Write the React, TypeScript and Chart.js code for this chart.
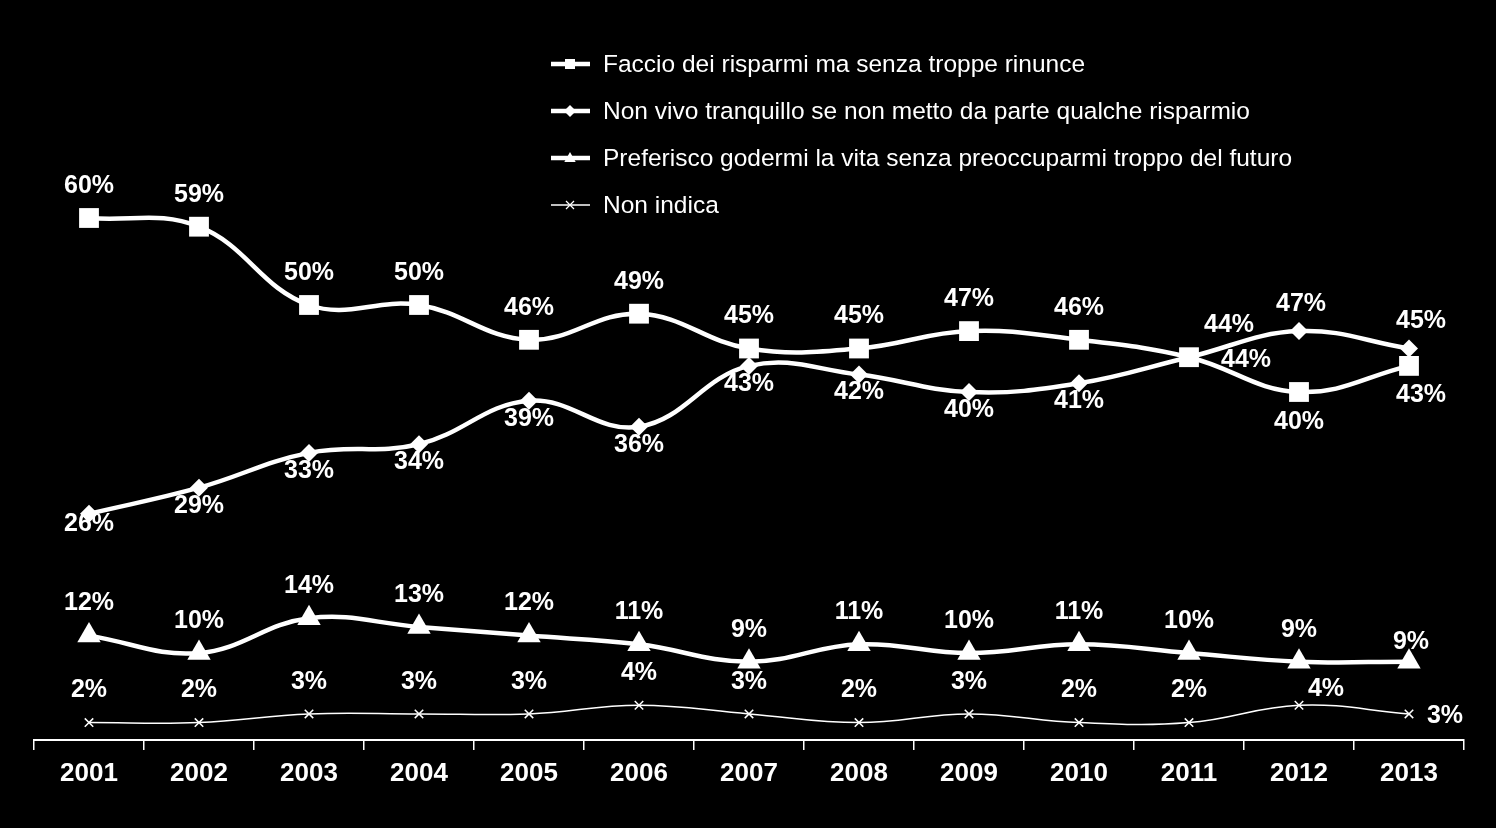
import React, { useEffect, useRef } from 'react';
import { Chart, registerables } from 'chart.js';

Chart.register(...registerables);

const years = ['2001', '2002', '2003', '2004', '2005', '2006', '2007', '2008', '2009', '2010', '2011', '2012', '2013'];

const seriesNames = [
  'Faccio dei risparmi ma senza troppe rinunce',
  'Non vivo tranquillo se non metto da parte qualche risparmio',
  'Preferisco godermi la vita senza preoccuparmi troppo del futuro',
  'Non indica',
];

const risparmiSenzaRinunce = [60, 59, 50, 50, 46, 49, 45, 45, 47, 46, 44, 40, 43];
const nonVivoTranquillo = [26, 29, 33, 34, 39, 36, 43, 42, 40, 41, 44, 47, 45];
const godermiLaVita = [12, 10, 14, 13, 12, 11, 9, 11, 10, 11, 10, 9, 9];
const nonIndica = [2, 2, 3, 3, 3, 4, 3, 2, 3, 2, 2, 4, 3];

// label placement keywords per point
const squarePlacement = ['above', 'above', 'above', 'above', 'above', 'above', 'above', 'above', 'above', 'above', 'right', 'below', 'belowRight'];
const diamondPlacement = ['belowTight', 'belowClose', 'belowClose', 'belowClose', 'belowClose', 'belowClose', 'belowClose', 'belowClose', 'belowClose', 'belowClose', 'aboveFar', 'aboveClose', 'aboveRight'];
const trianglePlacement = ['above', 'above', 'above', 'above', 'above', 'above', 'above', 'above', 'above', 'above', 'above', 'above', 'aboveRightLow'];
const crossPlacement = ['above', 'above', 'above', 'above', 'above', 'above', 'above', 'above', 'above', 'above', 'above', 'upRight', 'rightFar'];

const placementOffsets: Record<string, [number, number]> = {
  above: [0, -32],
  aboveClose: [2, -27],
  aboveRight: [12, -27],
  aboveRightLow: [2, -20],
  aboveFar: [40, -32],
  below: [0, 30],
  belowRight: [12, 29],
  belowClose: [0, 18],
  belowTight: [0, 10],
  right: [57, 3],
  upRight: [27, -16],
  rightFar: [36, 2],
};

const FONT = '"Liberation Sans", Arial, Helvetica, sans-serif';

const placements = [squarePlacement, diamondPlacement, trianglePlacement, crossPlacement];

function drawMarker(ctx: CanvasRenderingContext2D, style: string, x: number, y: number, r: number) {
  ctx.save();
  ctx.fillStyle = '#fff';
  ctx.strokeStyle = '#fff';
  ctx.beginPath();
  if (style === 'rect') {
    ctx.rect(x - r, y - r, 2 * r, 2 * r);
    ctx.fill();
  } else if (style === 'rectRot') {
    ctx.moveTo(x, y - r);
    ctx.lineTo(x + r, y);
    ctx.lineTo(x, y + r);
    ctx.lineTo(x - r, y);
    ctx.closePath();
    ctx.fill();
  } else if (style === 'triangle') {
    ctx.moveTo(x, y - r);
    ctx.lineTo(x + r * 0.95, y + r * 0.65);
    ctx.lineTo(x - r * 0.95, y + r * 0.65);
    ctx.closePath();
    ctx.fill();
  } else {
    ctx.lineWidth = 1.2;
    ctx.moveTo(x - r, y - r);
    ctx.lineTo(x + r, y + r);
    ctx.moveTo(x + r, y - r);
    ctx.lineTo(x - r, y + r);
    ctx.stroke();
  }
  ctx.restore();
}

const legendPlugin = {
  id: 'customLegend',
  afterDraw(chart: any) {
    const ctx = chart.ctx as CanvasRenderingContext2D;
    const styles = ['rect', 'rectRot', 'triangle', 'cross'];
    const sizes = [5, 6, 6, 4];
    const widths = [4.5, 4.5, 4.5, 1.3];
    ctx.save();
    seriesNames.forEach((name, i) => {
      const y = 64 + i * 47;
      ctx.strokeStyle = '#fff';
      ctx.lineWidth = widths[i];
      ctx.beginPath();
      ctx.moveTo(551, y);
      ctx.lineTo(590, y);
      ctx.stroke();
      drawMarker(ctx, styles[i], 570, y, sizes[i]);
      ctx.fillStyle = '#fff';
      ctx.font = `24.5px ${FONT}`;
      ctx.textAlign = 'left';
      ctx.textBaseline = 'middle';
      ctx.fillText(name, 603, y + 1);
    });
    ctx.restore();
  },
};

const labelPlugin = {
  id: 'pointLabels',
  afterDatasetsDraw(chart: any) {
    const ctx = chart.ctx as CanvasRenderingContext2D;
    ctx.save();
    ctx.fillStyle = '#fff';
    ctx.font = `bold 25px ${FONT}`;
    ctx.textAlign = 'center';
    ctx.textBaseline = 'middle';
    chart.data.datasets.forEach((ds: any, di: number) => {
      const meta = chart.getDatasetMeta(di);
      meta.data.forEach((pt: any, i: number) => {
        const [dx, dy] = placementOffsets[placements[di][i]];
        ctx.fillText(`${ds.data[i]}%`, pt.x + dx, pt.y + dy);
      });
    });
    ctx.restore();
  },
};

export default function App() {
  const canvasRef = useRef<HTMLCanvasElement>(null);

  useEffect(() => {
    if (!canvasRef.current) return;
    const common = {
      borderColor: '#ffffff',
      pointBackgroundColor: '#ffffff',
      pointBorderColor: '#ffffff',
      tension: 0.4,
      clip: false as any,
    };
    const chart = new Chart(canvasRef.current, {
      type: 'line',
      data: {
        labels: years,
        datasets: [
          { ...common, label: seriesNames[0], data: risparmiSenzaRinunce, borderWidth: 4.5, pointStyle: 'rect', pointRadius: 14, pointBorderWidth: 0 },
          { ...common, label: seriesNames[1], data: nonVivoTranquillo, borderWidth: 4.5, pointStyle: 'rectRot', pointRadius: 9, pointBorderWidth: 0 },
          { ...common, label: seriesNames[2], data: godermiLaVita, borderWidth: 4.5, pointStyle: 'triangle', pointRadius: 13.5, pointBorderWidth: 0 },
          { ...common, label: seriesNames[3], data: nonIndica, borderWidth: 1.5, pointStyle: 'crossRot', pointRadius: 6, pointBorderWidth: 1.5 },
        ],
      },
      options: {
        animation: false,
        responsive: false,
        maintainAspectRatio: false,
        layout: { padding: { top: 44, left: 34, right: 32, bottom: 0 } },
        plugins: {
          legend: { display: false },
          tooltip: { enabled: false },
        },
        scales: {
          y: { display: false, min: 0, max: 80 },
          x: {
            offset: true,
            grid: {
              offset: true,
              drawOnChartArea: false,
              drawTicks: true,
              tickLength: 10,
              color: '#ffffff',
              lineWidth: 1.5,
            },
            border: { color: '#ffffff', width: 2 },
            ticks: {
              color: '#ffffff',
              font: { family: FONT, size: 26, weight: 'bold' },
              padding: 8,
              maxRotation: 0,
              autoSkip: false,
            },
            afterFit: (s: any) => {
              s.height = 88;
            },
          },
        },
      },
      plugins: [legendPlugin, labelPlugin],
    });
    return () => chart.destroy();
  }, []);

  return (
    <div style={{ position: 'absolute', left: 0, top: 0, width: 1496, height: 828, background: '#000', overflow: 'hidden' }}>
      <canvas ref={canvasRef} width={1496} height={828} style={{ display: 'block' }} />
    </div>
  );
}
